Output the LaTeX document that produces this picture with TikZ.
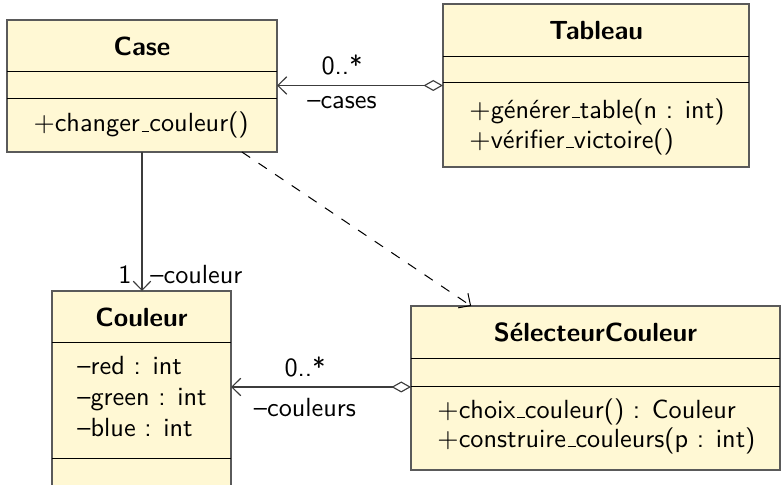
\documentclass[tikz,border=0pt]{standalone}
\usetikzlibrary{arrows.meta,calc}
\definecolor{classfill}{RGB}{255,248,212}
\definecolor{boxedge}{RGB}{90,90,90}
\definecolor{wire}{RGB}{60,60,60}
% short low rule used as the underscore in member names
\newcommand{\lowbar}{\leavevmode\kern.06em\vbox{\hrule width.3em}}
\begin{document}
\begin{tikzpicture}[x=0.4pt,y=-0.4pt,font=\fontsize{10.5}{12.6}\sffamily,
  classbox/.style={draw=boxedge,line width=0.6pt,fill=classfill,rectangle,inner sep=0pt,outer sep=0pt},
  sepline/.style={draw=black,line width=0.4pt},
  classname/.style={font=\fontsize{10.5}{12.6}\sffamily\bfseries,inner sep=0pt,anchor=center,text height=7.5pt,text depth=0pt},
  member/.style={inner sep=0pt,anchor=west,text height=7.5pt,text depth=2.6pt},
  lbl/.style={inner sep=0pt,text height=7.5pt,text depth=2.6pt},
  assoc/.style={draw=wire,line width=0.45pt,-{Straight Barb[length=3.6pt,width=7pt,line width=0.45pt]}},
  aggr/.style={draw=wire,line width=0.45pt,{Diamond[open,length=7.8pt,width=4.4pt,line width=0.45pt,fill=white]}-{Straight Barb[length=3.6pt,width=7pt,line width=0.45pt]}},
  depend/.style={draw=black,line width=0.4pt,dash pattern=on 4pt off 4pt,-{Straight Barb[length=3.6pt,width=7pt,line width=0.4pt]}}]
\useasboundingbox (0,0) rectangle (783,485);

% class Case
\node[classbox,minimum width=108pt,minimum height=52.8pt] (case) at (142,86) {};
\draw[sepline] (case.west |- 0,72) -- (case.east |- 0,72);
\draw[sepline] (case.west |- 0,99) -- (case.east |- 0,99);
\node[classname] (caseT) at (142,46) {Case};
\node[member] (caseM1) at (33,125.5) {$+$changer\lowbar couleur()};

% class Tableau
\node[classbox,minimum width=122.4pt,minimum height=65.2pt] (tableau) at (596,85.5) {};
\draw[sepline] (tableau.west |- 0,57) -- (tableau.east |- 0,57);
\draw[sepline] (tableau.west |- 0,83) -- (tableau.east |- 0,83);
\node[classname] (tableauT) at (596,30.5) {Tableau};
\node[member] (tableauM1) at (469,112) {$+$générer\lowbar table(n : int)};
\node[member] (tableauM2) at (469,142) {$+$vérifier\lowbar victoire()};

% class Couleur
\node[classbox,minimum width=71.6pt,minimum height=78.4pt] (couleur) at (141.5,389) {};
\draw[sepline] (couleur.west |- 0,343) -- (couleur.east |- 0,343);
\draw[sepline] (couleur.west |- 0,459) -- (couleur.east |- 0,459);
\node[classname] (couleurT) at (141.5,317) {Couleur};
\node[member] (couleurA1) at (77,368) {--red : int};
\node[member] (couleurA2) at (77,399) {--green : int};
\node[member] (couleurA3) at (77,430) {--blue : int};

% class SelecteurCouleur
\node[classbox,minimum width=147.6pt,minimum height=65.6pt] (selecteur) at (595.5,388) {};
\draw[sepline] (selecteur.west |- 0,359) -- (selecteur.east |- 0,359);
\draw[sepline] (selecteur.west |- 0,387) -- (selecteur.east |- 0,387);
\node[classname] (selecteurT) at (595.5,332.5) {SélecteurCouleur};
\node[member] (selecteurM1) at (437,412) {$+$choix\lowbar couleur() : Couleur};
\node[member] (selecteurM2) at (437,441) {$+$construire\lowbar couleurs(p : int)};

% relations
\draw[aggr] (tableau.west) -- (tableau.west -| case.east);
\node[lbl] (casesMult) at (342,68) {0..*};
\node[lbl] (casesRole) at (342,102) {--cases};

\draw[assoc] (case.south) -- (case.south |- couleur.north);
\node[lbl,anchor=east] (couleurMult) at (132,277) {1};
\node[lbl,anchor=west] (couleurRole) at (150,277) {--couleur};

\draw[aggr] (selecteur.west |- 0,387) -- (couleur.east |- 0,387);
\node[lbl] (couleursMult) at (305,370) {0..*};
\node[lbl] (couleursRole) at (305,410) {--couleurs};

\draw[depend] ($(case.south west)!0.87!(case.south east)$) -- ($(selecteur.north west)!0.163!(selecteur.north east)$);
\end{tikzpicture}
\end{document}
